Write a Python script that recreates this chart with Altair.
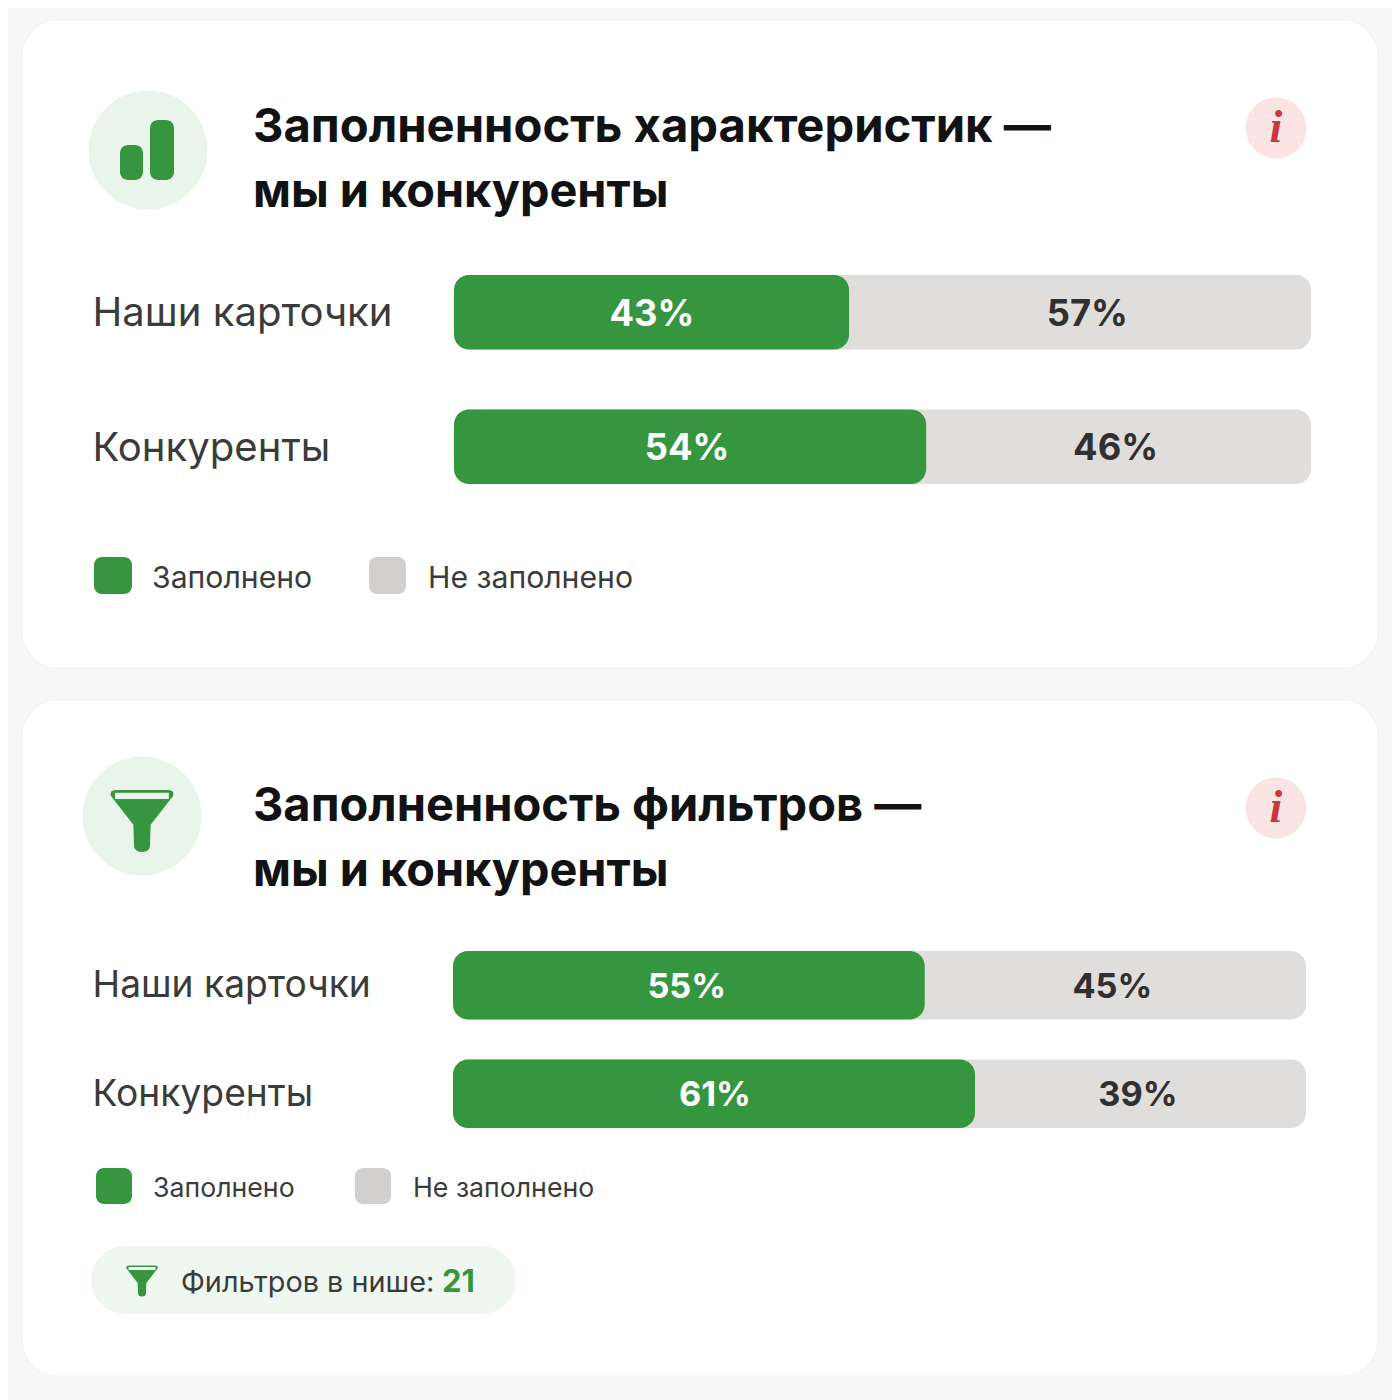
import altair as alt
import pandas as pd

# ---- data ----
ROWS = ["Наши карточки", "Конкуренты"]
P1_FILLED = [46.1, 55.1]          # drawn length of the green segment, % of track
P1_LABEL_FILLED = ["43%", "54%"]
P1_LABEL_EMPTY = ["57%", "46%"]
P1_AT_FILLED = [23.1, 27.2]
P1_AT_EMPTY = [73.9, 77.2]

P2_FILLED = [55.3, 61.2]
P2_LABEL_FILLED = ["55%", "61%"]
P2_LABEL_EMPTY = ["45%", "39%"]
P2_AT_FILLED = [27.4, 30.7]
P2_AT_EMPTY = [77.3, 80.3]

TITLE_1 = ["Заполненность характеристик —", "мы и конкуренты"]
TITLE_2 = ["Заполненность фильтров —", "мы и конкуренты"]
LEGEND = ["Заполнено", "Не заполнено"]
NICHE_TEXT = "Фильтров в нише:"
NICHE_VALUE = "21"

# ---- style ----
FONT = "Inter"
GREEN = "#35963f"
TRACK = "#e0dedd"
LEG_GREY = "#d2d0cf"
MINT = "#e9f4eb"
PILL = "#eff7f1"
PINK = "#fbe4e4"
RED = "#c8393c"
INK = "#111214"
TEXT = "#3a3b3b"
M = 8  # page margin
one = alt.Data(values=[{}])
FUNNEL = ("M-0.81,-0.97 L0.81,-0.97 Q1.03,-0.97 0.97,-0.78 L0.27,0.12 L0.25,0.75 "
          "Q0.25,0.97 0,0.97 Q-0.25,0.97 -0.25,0.75 L-0.27,0.12 L-0.97,-0.78 "
          "Q-1.03,-0.97 -0.81,-0.97 Z M-0.84,-0.88 L-0.84,-0.69 L0.84,-0.69 L0.84,-0.88 Z")


def box(x0, y0, x1, y1, color, r, **kw):
    return alt.Chart(one).mark_rect(color=color, cornerRadius=r, **kw).encode(
        x=alt.value(x0 - M), x2=alt.value(x1 - M),
        y=alt.value(y0 - M), y2=alt.value(y1 - M))


def label(s, x, y, size, color=TEXT, weight=400, font=FONT, **kw):
    return alt.Chart(one).mark_text(
        text=s, font=font, fontSize=size, fontWeight=weight, color=color,
        align=kw.pop("align", "left"), baseline="middle", **kw
    ).encode(x=alt.value(x - M), y=alt.value(y - M))


def dot(x, y, d, color):
    return alt.Chart(one).mark_circle(color=color, size=d * d, opacity=1).encode(
        x=alt.value(x - M), y=alt.value(y - M))


def funnel(x, y, half):
    return alt.Chart(one).mark_point(
        shape=FUNNEL, filled=True, color=GREEN, opacity=1, strokeWidth=0,
        size=(2 * half) ** 2
    ).encode(x=alt.value(x - M), y=alt.value(y - M))


def panel(filled, lab_f, lab_e, at_f, at_e, x0, x1, y0, y1, inner, pct_size, row_size, row_x, pct_dy, row_dy):
    df = pd.DataFrame({"row": ROWS, "end": filled, "start": 0, "full": 100,
                       "lf": lab_f, "le": lab_e, "af": at_f, "ae": at_e})
    sx = alt.Scale(domain=[0, 100], range=[x0 - M, x1 - M], nice=False, zero=False)
    sy = alt.Scale(type="band", domain=ROWS, range=[y0 - M, y1 - M], paddingInner=inner, paddingOuter=0)
    Y = alt.Y("row:N", scale=sy, axis=None, title=None)

    def X(f):
        return alt.X(f"{f}:Q", scale=sx, axis=None, title=None)

    base = alt.Chart(df)
    track = base.mark_bar(color=TRACK, cornerRadius=15).encode(x=X("start"), x2="full:Q", y=Y)
    fill = base.mark_bar(color=GREEN, cornerRadius=15).encode(x=X("start"), x2="end:Q", y=Y)
    tf = base.mark_text(font=FONT, fontSize=pct_size, fontWeight=700, color="#ffffff", dy=pct_dy,
                        baseline="middle").encode(x=X("af"), y=Y, text="lf:N")
    te = base.mark_text(font=FONT, fontSize=pct_size, fontWeight=700, color="#303030", dy=pct_dy,
                        baseline="middle").encode(x=X("ae"), y=Y, text="le:N")
    rows = base.mark_text(font=FONT, fontSize=row_size, fontWeight=400, color=TEXT, align="left",
                          dy=row_dy, baseline="middle").encode(x=alt.value(row_x - M), y=Y, text="row:N")
    return [track, fill, tf, te, rows]


layers = [
    box(22, 20, 1378, 668, "#ffffff", 36, stroke="#f3f3f3", strokeWidth=1),
    box(22, 700, 1378, 1376, "#ffffff", 36, stroke="#f3f3f3", strokeWidth=1),
    # header 1
    dot(148, 150, 119, MINT),
    box(120, 145, 143, 180, GREEN, 8),
    box(150, 120, 174, 180, GREEN, 8),
    label(TITLE_1[0], 253, 128, 47.2, INK, 700),
    label(TITLE_1[1], 253, 193, 46.8, INK, 700),
    dot(1276, 128, 61, PINK),
    label("i", 1276, 128, 46, RED, 700, "Liberation Serif", align="center", fontStyle="italic"),
    # legend 1
    box(94, 557, 132, 594, GREEN, 8),
    label(LEGEND[0], 152, 579, 30.2),
    box(369, 557, 406, 594, LEG_GREY, 8),
    label(LEGEND[1], 428, 579, 30.2),
    # header 2
    dot(142, 816, 119, MINT),
    funnel(142, 821, 32),
    label(TITLE_2[0], 253, 807, 47.0, INK, 700),
    label(TITLE_2[1], 253, 872, 46.8, INK, 700),
    dot(1276, 808, 61, PINK),
    label("i", 1276, 808, 46, RED, 700, "Liberation Serif", align="center", fontStyle="italic"),
    # legend 2
    box(96, 1168, 132, 1204, GREEN, 8),
    label(LEGEND[0], 153, 1189, 26.7),
    box(355, 1168, 391, 1204, LEG_GREY, 8),
    label(LEGEND[1], 413, 1189, 26.7),
    # niche pill
    box(91, 1246, 516, 1314, PILL, 34),
    funnel(142, 1281, 16),
    label(NICHE_TEXT, 181, 1283, 28.8),
    label(NICHE_VALUE, 442, 1283, 31, GREEN, 700),
]
layers += panel(P1_FILLED, P1_LABEL_FILLED, P1_LABEL_EMPTY, P1_AT_FILLED, P1_AT_EMPTY,
                454, 1311, 275, 484, 0.446, 36.3, 40.1, 92.5, 2.5, 2)
layers += panel(P2_FILLED, P2_LABEL_FILLED, P2_LABEL_EMPTY, P2_AT_FILLED, P2_AT_EMPTY,
                453, 1306, 951, 1128, 0.37, 34.3, 37.2, 92.5, 2.5, 1)

chart = alt.layer(*layers).resolve_scale(x="independent", y="independent").properties(
    width=1384, height=1392, background="#f8f8f8", padding=0,
    autosize=alt.AutoSizeParams(type="none"),
).configure_view(stroke=None)

chart.save("out.html", embed_options={"renderer": "svg", "actions": False})
